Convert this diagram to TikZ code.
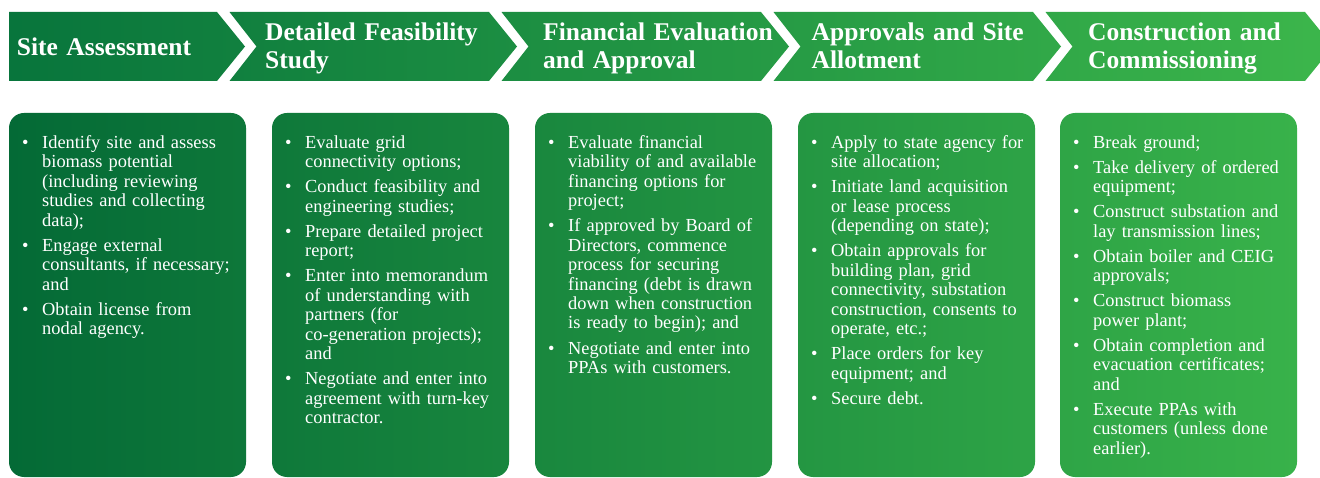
\documentclass[tikz,border=0pt]{standalone}
\usepackage{fontspec}
\setmainfont{Liberation Serif}
\definecolor{chevL}{RGB}{8,117,60}
\definecolor{chevR}{RGB}{60,182,75}
\definecolor{boxL}{RGB}{4,106,54}
\definecolor{boxR}{RGB}{56,178,74}
\newcommand\bulletstart{\hangindent=20pt\hangafter=1\noindent\strut\makebox[20pt][l]{\textbullet}}
\newcommand\fitem{\bulletstart}
\newcommand\bitem{\par\vspace{5.6pt}\bulletstart}
\newcommand\nl{\newline}
\begin{document}
\begin{tikzpicture}[x=1pt,y=-1pt,
  head/.style={text=white, font=\fontsize{25.5}{28}\selectfont\bfseries, inner sep=0pt, anchor=north west, align=left, text width=240pt},
  bodytext/.style={text=white, font=\fontsize{18.4}{19.45}\selectfont, inner sep=0pt, anchor=north west, align=left, text width=222pt},
  chevshade/.style={left color=chevL, right color=chevR, draw=none},
  boxshade/.style={left color=boxL, right color=boxR, draw=none, rounded corners=15pt}]
\clip (0,0) rectangle (1320,478);
\fill[white] (0,0) rectangle (1320,478);
% chevrons
\shade[chevshade]
  (9,12) -- (217,12) -- (245,46.5) -- (217,81) -- (9,81) -- cycle
  (229.5,12) -- (489,12) -- (517,46.5) -- (489,81) -- (229.5,81) -- (256.5,46.5) -- cycle
  (501.5,12) -- (761,12) -- (789,46.5) -- (761,81) -- (501.5,81) -- (528.5,46.5) -- cycle
  (773.5,12) -- (1033,12) -- (1061,46.5) -- (1033,81) -- (773.5,81) -- (800.5,46.5) -- cycle
  (1045.5,12) -- (1305,12) -- (1333,46.5) -- (1305,81) -- (1045.5,81) -- (1072.5,46.5) -- cycle;
% boxes
\shade[boxshade]
  (9,113) rectangle (246,477)
  (272,113) rectangle (509,477)
  (535,113) rectangle (772,477)
  (798,113) rectangle (1035,477)
  (1060,113) rectangle (1297,477);
% headers
\node[head] (h1) at (16.7,35.4) {\strut Site Assessment};
\node[head] (h2) at (265,20.4) {\strut Detailed Feasibility\\Study};
\node[head] (h3) at (543,20.4) {\strut Financial Evaluation\\and Approval};
\node[head] (h4) at (811.5,20.4) {\strut Approvals and Site\\Allotment};
\node[head] (h5) at (1088,20.4) {\strut Construction and\\Commissioning};
% body texts
\node[bodytext] (b1) at (22,134.5) {%
\fitem Identify site and assess\nl biomass potential\nl (including reviewing\nl studies and collecting\nl data);
\bitem Engage external\nl consultants, if necessary;\nl and
\bitem Obtain license from\nl nodal agency.\par};
\node[bodytext] (b2) at (285,134.5) {%
\fitem Evaluate grid\nl connectivity options;
\bitem Conduct feasibility and\nl engineering studies;
\bitem Prepare detailed project\nl report;
\bitem Enter into memorandum\nl of understanding with\nl partners (for\nl co-generation projects);\nl and
\bitem Negotiate and enter into\nl agreement with turn-key\nl contractor.\par};
\node[bodytext] (b3) at (548,134.5) {%
\fitem Evaluate financial\nl viability of and available\nl financing options for\nl project;
\bitem If approved by Board of\nl Directors, commence\nl process for securing\nl financing (debt is drawn\nl down when construction\nl is ready to begin); and
\bitem Negotiate and enter into\nl PPAs with customers.\par};
\node[bodytext] (b4) at (811,134.5) {%
\fitem Apply to state agency for\nl site allocation;
\bitem Initiate land acquisition\nl or lease process\nl (depending on state);
\bitem Obtain approvals for\nl building plan, grid\nl connectivity, substation\nl construction, consents to\nl operate, etc.;
\bitem Place orders for key\nl equipment; and
\bitem Secure debt.\par};
\node[bodytext] (b5) at (1073,134.5) {%
\fitem Break ground;
\bitem Take delivery of ordered\nl equipment;
\bitem Construct substation and\nl lay transmission lines;
\bitem Obtain boiler and CEIG\nl approvals;
\bitem Construct biomass\nl power plant;
\bitem Obtain completion and\nl evacuation certificates;\nl and
\bitem Execute PPAs with\nl customers (unless done\nl earlier).\par};
\end{tikzpicture}
\end{document}
